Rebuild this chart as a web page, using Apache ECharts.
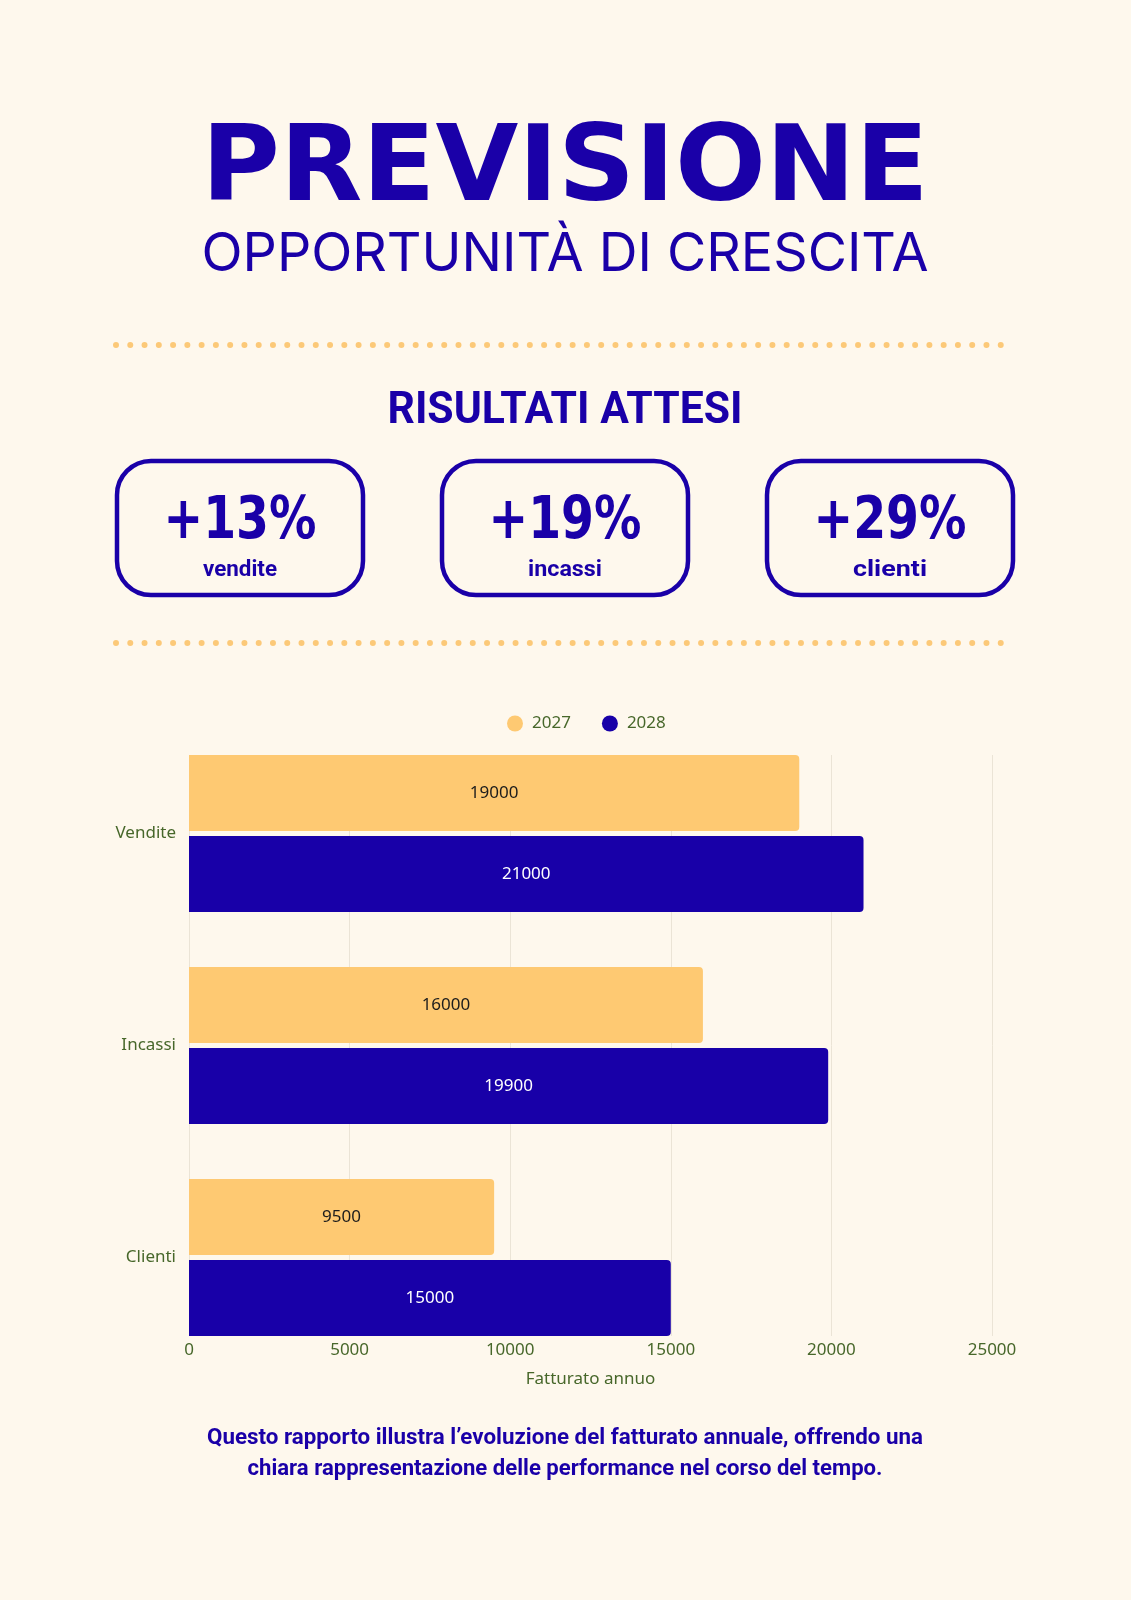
<!DOCTYPE html>
<html>
<head>
<meta charset="utf-8">
<title>Previsione</title>
<script src="https://cdn.jsdelivr.net/npm/echarts@6/dist/echarts.min.js"></script>
<style>
  html, body { margin: 0; padding: 0; background: #fef8ed; }
  #main { width: 1131px; height: 1600px; }
</style>
</head>
<body>
<div id="main"></div>
<script>
// dati del grafico
var categories = ['Vendite', 'Incassi', 'Clienti'];
var seriesNames = ['2027', '2028'];
var values2027 = [19000, 16000, 9500];
var values2028 = [21000, 19900, 15000];
var xTicks = [0, 5000, 10000, 15000, 20000, 25000];

// riquadri risultati attesi
var statValues = ['+13%', '+19%', '+29%'];
var statLabels = ['vendite', 'incassi', 'clienti'];

var blue = '#1a00a8';
var yellow = '#fec972';
var green = '#47672a';

// misura il testo per adattarlo alla larghezza voluta
var ctx = document.createElement('canvas').getContext('2d');
function fit(text, font, width) {
    ctx.font = font;
    return width / ctx.measureText(text).width;
}

function textEl(text, x, y, font, width) {
    var s = width ? fit(text, font, width) : 1;
    return {
        type: 'text',
        x: x,
        y: y,
        scaleX: s,
        style: {
            text: text,
            x: 0,
            y: 0,
            font: font,
            fill: blue,
            align: 'center',
            verticalAlign: 'middle',
            textAlign: 'center',
            textVerticalAlign: 'middle'
        }
    };
}

function dots(y) {
    return {
        type: 'line',
        shape: {x1: 116, y1: y, x2: 1001, y2: y},
        style: {
            stroke: '#fcc978',
            lineWidth: 6,
            lineCap: 'round',
            lineDash: [0, 14.27]
        }
    };
}

var graphics = [
    textEl('PREVISIONE', 565, 172, 'bold 106px "DejaVu Sans"', 727),
    textEl('OPPORTUNITÀ DI CRESCITA', 565, 255, '400 54px Inter', 727),
    dots(345),
    textEl('RISULTATI ATTESI', 565, 412, 'bold 45px Roboto', 355),
    dots(643),
    textEl('Questo rapporto illustra l’evoluzione del fatturato annuale, offrendo una', 565, 1438, 'bold 22px Roboto', 716),
    textEl('chiara rappresentazione delle performance nel corso del tempo.', 565, 1469, 'bold 22px Roboto', 635)
];

var boxCenters = [240, 565, 890];
statValues.forEach(function (v, i) {
    var cx = boxCenters[i];
    graphics.push({
        type: 'rect',
        shape: {x: cx - 123, y: 461, width: 246, height: 134, r: 34},
        style: {fill: 'none', stroke: blue, lineWidth: 4.5}
    });
    graphics.push(textEl(v, cx, 523, 'bold 58px "DejaVu Sans"', 153));
    graphics.push(textEl(statLabels[i], cx, 570, 'bold 22px Roboto', 74));
});

var labelFont = {fontFamily: 'Noto Sans', fontSize: 17, color: green};

var myChart = echarts.init(document.getElementById('main'));

option = {
    backgroundColor: '#fef8ed',
    textStyle: {fontFamily: 'Noto Sans'},
    graphic: graphics,
    legend: {
        data: seriesNames,
        left: 507,
        top: 715,
        padding: 0,
        icon: 'circle',
        itemWidth: 16,
        itemHeight: 16,
        itemGap: 31,
        textStyle: {fontFamily: 'Noto Sans', fontSize: 17, color: green, padding: [0, 0, 0, 4]}
    },
    grid: [
        {left: 189, right: 139, top: 727.5, height: 636},
        {left: 189, right: 139, top: 755, height: 581}
    ],
    xAxis: [
        {gridIndex: 0, type: 'value', min: 0, max: 25000, interval: 5000, show: false},
        {
            gridIndex: 1,
            type: 'value',
            min: xTicks[0],
            max: xTicks[xTicks.length - 1],
            interval: xTicks[1] - xTicks[0],
            axisLine: {show: false},
            axisTick: {show: false},
            splitLine: {lineStyle: {color: '#ebe4d6', width: 1}},
            axisLabel: {
                margin: 6,
                fontFamily: 'Noto Sans',
                fontSize: 17,
                color: green,
                formatter: function (v) { return String(v); }
            },
            name: 'Fatturato annuo',
            nameLocation: 'middle',
            nameGap: 35,
            nameTextStyle: labelFont
        }
    ],
    yAxis: [
        {
            gridIndex: 0,
            type: 'category',
            data: categories,
            inverse: true,
            axisLine: {show: false},
            axisTick: {show: false},
            axisLabel: {margin: 13, fontFamily: 'Noto Sans', fontSize: 17, color: green}
        },
        {gridIndex: 1, type: 'value', min: 0, max: 1, show: false}
    ],
    series: [
        {
            name: seriesNames[0],
            type: 'bar',
            xAxisIndex: 0,
            yAxisIndex: 0,
            data: values2027,
            barWidth: 76,
            barGap: '6.6%',
            itemStyle: {color: yellow, borderRadius: [0, 4, 4, 0]},
            label: {show: true, position: 'inside', color: '#1c1c1c', fontFamily: 'Noto Sans', fontSize: 17}
        },
        {
            name: seriesNames[1],
            type: 'bar',
            xAxisIndex: 0,
            yAxisIndex: 0,
            data: values2028,
            barWidth: 76,
            barGap: '6.6%',
            itemStyle: {color: '#1800a8', borderRadius: [0, 4, 4, 0]},
            label: {show: true, position: 'inside', color: '#ffffff', fontFamily: 'Noto Sans', fontSize: 17}
        }
    ]
};

if (option && typeof option === "object") {
    myChart.setOption(option, true);
}
</script>
</body>
</html>
